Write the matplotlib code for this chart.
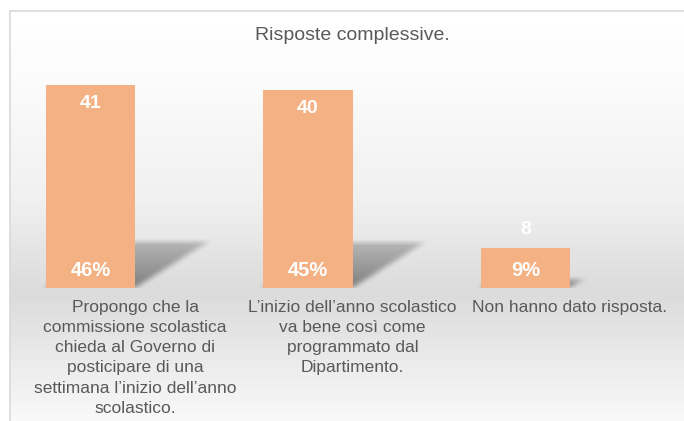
import numpy as np
import matplotlib
matplotlib.use("Agg")
from matplotlib import pyplot as plt

plt.rcParams["font.family"] = ["Liberation Sans", "DejaVu Sans"]

title = "Risposte complessive."
categories = [
    "Propongo che la\ncommissione scolastica\nchieda al Governo di\nposticipare di una\nsettimana l’inizio dell’anno\nscolastico.",
    "L’inizio dell’anno scolastico\nva bene così come\nprogrammato dal\nDipartimento.",
    "Non hanno dato risposta.",
]
counts = [41, 40, 8]

BAR_COLOR = "#F4B183"
TEXT_GREY = "#595959"

W, H = 684, 421
fig = plt.figure(figsize=(W / 100, H / 100), dpi=100)

# background panel with vertical grey gradient
bg = fig.add_axes([0, 0, 1, 1])
bg.set_xlim(0, W)
bg.set_ylim(H, 0)
bg.axis("off")
rows = np.arange(11, H)
stops_y = [11, 70, 200, 292, 340, 421]
stops_v = [1.0, 0.985, 0.94, 0.855, 0.90, 0.975]
shade = np.interp(rows, stops_y, stops_v)
grad = np.repeat(shade[:, None], 50, axis=1)
bg.imshow(grad, extent=(9.5, W, H, 11), cmap="gray", vmin=0, vmax=1,
          aspect="auto", interpolation="nearest")
bg.plot([9.5, 9.5], [H, 11], color="#d9d9d9", lw=1.2)
bg.plot([9.5, W], [11, 11], color="#d9d9d9", lw=1.2)

# plot axes: baseline at y=288 px, 4.95 px per unit
base_px, top_px = 288, 60
px_per_unit = 4.95
ax = fig.add_axes([10 / W, (H - base_px) / H, (W - 10) / W, (base_px - top_px) / H])
ax.patch.set_alpha(0)
ax.axis("off")
x = np.arange(len(counts))
xlim = (-0.37, 2.729)
ylim = (0, (base_px - top_px) / px_per_unit)

bar_w = 0.41
ax.bar(x, counts, width=bar_w, color=BAR_COLOR, zorder=3)

# soft perspective shadows behind the bars
k, s = 0.0082, 0.227
gx = np.linspace(xlim[0], xlim[1], 900)
gy = np.linspace(0, 14, 100)
XX, YY = np.meshgrid(gx, gy)
alpha = np.zeros_like(XX)
for xi, h in zip(x, counts):
    x0, x1 = xi - bar_w / 2, xi + bar_w / 2
    off = YY * k / s
    inside = (YY <= s * h) & (XX >= x0 + off) & (XX <= x1 + off)
    alpha = np.maximum(alpha, np.where(inside, 0.42 * (1 - 0.5 * YY / (s * h)), 0))
for axis, n in ((1, 15), (0, 9)):
    ker = np.ones(n) / n
    alpha = np.apply_along_axis(lambda v: np.convolve(v, ker, mode="same"), axis, alpha)
rgba = np.zeros(alpha.shape + (4,))
rgba[..., 3] = alpha
ax.imshow(rgba, extent=(gx[0], gx[-1], gy[0], gy[-1]), origin="lower",
          aspect="auto", zorder=2, interpolation="bilinear")
ax.set_xlim(*xlim)
ax.set_ylim(*ylim)

total = sum(counts)
off_units = 18.5 / px_per_unit
for xi, h in zip(x, counts):
    ylab = h - off_units if h > 15 else h + off_units
    ax.text(xi, ylab, f"{h}", ha="center", va="center", color="white",
            fontsize=14, fontweight="bold", zorder=4)
    ax.text(xi, 17 / px_per_unit, f"{round(h / total * 100)}%", ha="center",
            va="center", color="white", fontsize=14.5, fontweight="bold", zorder=4)
    ax.text(xi + bar_w / 2, -12 / px_per_unit, categories[xi], ha="center", va="top",
            color=TEXT_GREY, fontsize=12.5, linespacing=1.43, clip_on=False)

fig.text(352 / W, 1 - 35 / H, title, ha="center", va="center",
         color=TEXT_GREY, fontsize=14)

fig.savefig("out.png", dpi=100)
